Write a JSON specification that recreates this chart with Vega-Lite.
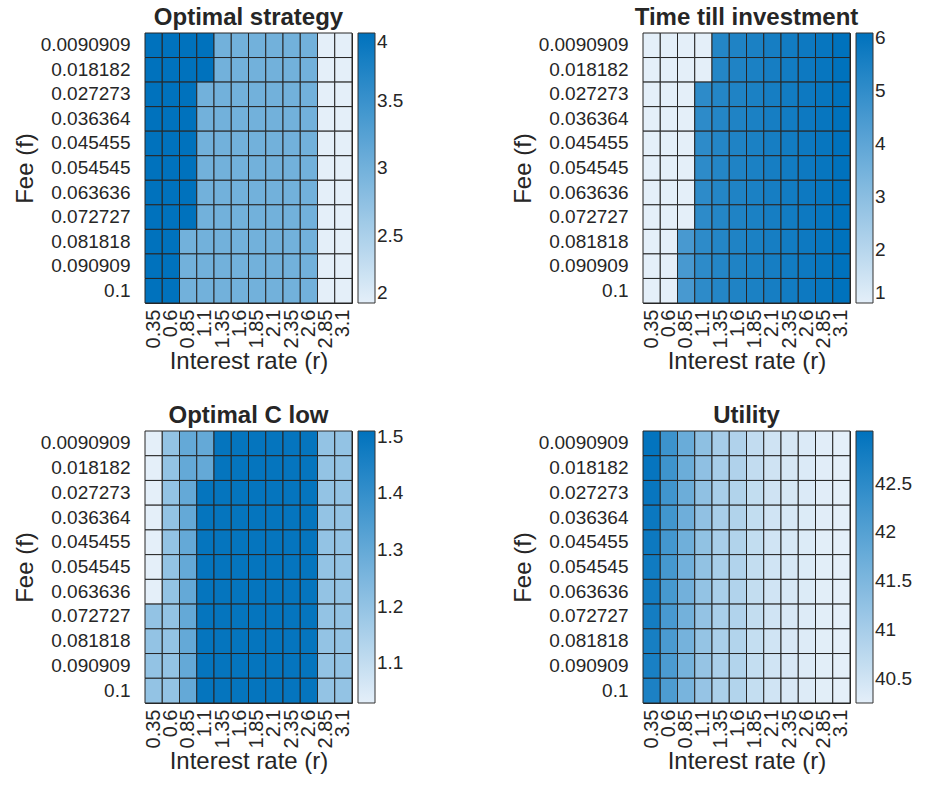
{
 "$schema": "https://vega.github.io/schema/vega-lite/v6.json",
 "background": "white",
 "padding": {"left": 12, "top": 5, "right": 5, "bottom": 5},
 "config": {
  "font": "Liberation Sans",
  "view": {"stroke": "#262626", "strokeWidth": 1},
  "title": {"font": "Liberation Sans", "fontSize": 24, "fontWeight": "bold", "color": "#262626", "offset": 3},
  "axis": {"labelFont": "Liberation Sans", "titleFont": "Liberation Sans", "labelFontSize": 19, "titleFontSize": 24, "labelColor": "#262626", "titleColor": "#262626", "titleFontWeight": "normal", "ticks": false, "domain": false, "grid": false},
  "axisX": {"labelAngle": 270, "labelOverlap": false, "labelFontSize": 20, "labelPadding": 6, "titlePadding": 2},
  "axisY": {"labelPadding": 15, "titlePadding": 3},
  "legend": {"gradientLength": 270, "gradientThickness": 17, "labelFontSize": 19, "labelColor": "#262626", "gradientStrokeColor": "#333333", "gradientStrokeWidth": 1, "offset": 6, "labelOverlap": false, "labelOffset": 5}
 },
 "datasets": {
  "grid": [
   {"f":"0.0090909","r":"0.35","s":4,"t":1,"c":1.03,"u":43.00},
   {"f":"0.0090909","r":"0.6","s":4,"t":1,"c":1.2,"u":42.30},
   {"f":"0.0090909","r":"0.85","s":4,"t":1,"c":1.3,"u":41.75},
   {"f":"0.0090909","r":"1.1","s":4,"t":1,"c":1.3,"u":41.30},
   {"f":"0.0090909","r":"1.35","s":3,"t":5.3,"c":1.5,"u":41.00},
   {"f":"0.0090909","r":"1.6","s":3,"t":5.4,"c":1.5,"u":40.89},
   {"f":"0.0090909","r":"1.85","s":3,"t":5.5,"c":1.5,"u":40.67},
   {"f":"0.0090909","r":"2.1","s":3,"t":5.6,"c":1.5,"u":40.51},
   {"f":"0.0090909","r":"2.35","s":3,"t":5.7,"c":1.5,"u":40.42},
   {"f":"0.0090909","r":"2.6","s":3,"t":5.8,"c":1.5,"u":40.36},
   {"f":"0.0090909","r":"2.85","s":2,"t":5.95,"c":1.2,"u":40.29},
   {"f":"0.0090909","r":"3.1","s":2,"t":6.1,"c":1.2,"u":40.25},

   {"f":"0.018182","r":"0.35","s":4,"t":1,"c":1.03,"u":42.97},
   {"f":"0.018182","r":"0.6","s":4,"t":1,"c":1.2,"u":42.28},
   {"f":"0.018182","r":"0.85","s":4,"t":1,"c":1.3,"u":41.73},
   {"f":"0.018182","r":"1.1","s":4,"t":1,"c":1.3,"u":41.29},
   {"f":"0.018182","r":"1.35","s":3,"t":5.3,"c":1.5,"u":41.00},
   {"f":"0.018182","r":"1.6","s":3,"t":5.4,"c":1.5,"u":40.89},
   {"f":"0.018182","r":"1.85","s":3,"t":5.5,"c":1.5,"u":40.67},
   {"f":"0.018182","r":"2.1","s":3,"t":5.6,"c":1.5,"u":40.51},
   {"f":"0.018182","r":"2.35","s":3,"t":5.7,"c":1.5,"u":40.42},
   {"f":"0.018182","r":"2.6","s":3,"t":5.8,"c":1.5,"u":40.36},
   {"f":"0.018182","r":"2.85","s":2,"t":5.95,"c":1.2,"u":40.29},
   {"f":"0.018182","r":"3.1","s":2,"t":6.1,"c":1.2,"u":40.25},

   {"f":"0.027273","r":"0.35","s":4,"t":1,"c":1.03,"u":42.94},
   {"f":"0.027273","r":"0.6","s":4,"t":1,"c":1.2,"u":42.26},
   {"f":"0.027273","r":"0.85","s":4,"t":1,"c":1.3,"u":41.72},
   {"f":"0.027273","r":"1.1","s":3,"t":5.1,"c":1.5,"u":41.28},
   {"f":"0.027273","r":"1.35","s":3,"t":5.3,"c":1.5,"u":40.99},
   {"f":"0.027273","r":"1.6","s":3,"t":5.4,"c":1.5,"u":40.88},
   {"f":"0.027273","r":"1.85","s":3,"t":5.5,"c":1.5,"u":40.66},
   {"f":"0.027273","r":"2.1","s":3,"t":5.6,"c":1.5,"u":40.51},
   {"f":"0.027273","r":"2.35","s":3,"t":5.7,"c":1.5,"u":40.42},
   {"f":"0.027273","r":"2.6","s":3,"t":5.8,"c":1.5,"u":40.36},
   {"f":"0.027273","r":"2.85","s":2,"t":5.95,"c":1.2,"u":40.29},
   {"f":"0.027273","r":"3.1","s":2,"t":6.1,"c":1.2,"u":40.25},

   {"f":"0.036364","r":"0.35","s":4,"t":1,"c":1.03,"u":42.91},
   {"f":"0.036364","r":"0.6","s":4,"t":1,"c":1.2,"u":42.24},
   {"f":"0.036364","r":"0.85","s":4,"t":1,"c":1.3,"u":41.70},
   {"f":"0.036364","r":"1.1","s":3,"t":5.1,"c":1.5,"u":41.27},
   {"f":"0.036364","r":"1.35","s":3,"t":5.3,"c":1.5,"u":40.99},
   {"f":"0.036364","r":"1.6","s":3,"t":5.4,"c":1.5,"u":40.88},
   {"f":"0.036364","r":"1.85","s":3,"t":5.5,"c":1.5,"u":40.66},
   {"f":"0.036364","r":"2.1","s":3,"t":5.6,"c":1.5,"u":40.50},
   {"f":"0.036364","r":"2.35","s":3,"t":5.7,"c":1.5,"u":40.41},
   {"f":"0.036364","r":"2.6","s":3,"t":5.8,"c":1.5,"u":40.35},
   {"f":"0.036364","r":"2.85","s":2,"t":5.95,"c":1.2,"u":40.29},
   {"f":"0.036364","r":"3.1","s":2,"t":6.1,"c":1.2,"u":40.25},

   {"f":"0.045455","r":"0.35","s":4,"t":1,"c":1.03,"u":42.88},
   {"f":"0.045455","r":"0.6","s":4,"t":1,"c":1.2,"u":42.22},
   {"f":"0.045455","r":"0.85","s":4,"t":1,"c":1.3,"u":41.68},
   {"f":"0.045455","r":"1.1","s":3,"t":5.1,"c":1.5,"u":41.26},
   {"f":"0.045455","r":"1.35","s":3,"t":5.3,"c":1.5,"u":40.98},
   {"f":"0.045455","r":"1.6","s":3,"t":5.4,"c":1.5,"u":40.88},
   {"f":"0.045455","r":"1.85","s":3,"t":5.5,"c":1.5,"u":40.66},
   {"f":"0.045455","r":"2.1","s":3,"t":5.6,"c":1.5,"u":40.50},
   {"f":"0.045455","r":"2.35","s":3,"t":5.7,"c":1.5,"u":40.41},
   {"f":"0.045455","r":"2.6","s":3,"t":5.8,"c":1.5,"u":40.35},
   {"f":"0.045455","r":"2.85","s":2,"t":5.95,"c":1.2,"u":40.28},
   {"f":"0.045455","r":"3.1","s":2,"t":6.1,"c":1.2,"u":40.25},

   {"f":"0.054545","r":"0.35","s":4,"t":1,"c":1.03,"u":42.85},
   {"f":"0.054545","r":"0.6","s":4,"t":1,"c":1.2,"u":42.20},
   {"f":"0.054545","r":"0.85","s":4,"t":1,"c":1.3,"u":41.66},
   {"f":"0.054545","r":"1.1","s":3,"t":5.1,"c":1.5,"u":41.25},
   {"f":"0.054545","r":"1.35","s":3,"t":5.3,"c":1.5,"u":40.98},
   {"f":"0.054545","r":"1.6","s":3,"t":5.4,"c":1.5,"u":40.87},
   {"f":"0.054545","r":"1.85","s":3,"t":5.5,"c":1.5,"u":40.65},
   {"f":"0.054545","r":"2.1","s":3,"t":5.6,"c":1.5,"u":40.50},
   {"f":"0.054545","r":"2.35","s":3,"t":5.7,"c":1.5,"u":40.41},
   {"f":"0.054545","r":"2.6","s":3,"t":5.8,"c":1.5,"u":40.35},
   {"f":"0.054545","r":"2.85","s":2,"t":5.95,"c":1.2,"u":40.28},
   {"f":"0.054545","r":"3.1","s":2,"t":6.1,"c":1.2,"u":40.25},

   {"f":"0.063636","r":"0.35","s":4,"t":1,"c":1.03,"u":42.82},
   {"f":"0.063636","r":"0.6","s":4,"t":1,"c":1.2,"u":42.18},
   {"f":"0.063636","r":"0.85","s":4,"t":1,"c":1.3,"u":41.65},
   {"f":"0.063636","r":"1.1","s":3,"t":5.1,"c":1.5,"u":41.24},
   {"f":"0.063636","r":"1.35","s":3,"t":5.3,"c":1.5,"u":40.97},
   {"f":"0.063636","r":"1.6","s":3,"t":5.4,"c":1.5,"u":40.87},
   {"f":"0.063636","r":"1.85","s":3,"t":5.5,"c":1.5,"u":40.65},
   {"f":"0.063636","r":"2.1","s":3,"t":5.6,"c":1.5,"u":40.50},
   {"f":"0.063636","r":"2.35","s":3,"t":5.7,"c":1.5,"u":40.41},
   {"f":"0.063636","r":"2.6","s":3,"t":5.8,"c":1.5,"u":40.35},
   {"f":"0.063636","r":"2.85","s":2,"t":5.95,"c":1.2,"u":40.28},
   {"f":"0.063636","r":"3.1","s":2,"t":6.1,"c":1.2,"u":40.25},

   {"f":"0.072727","r":"0.35","s":4,"t":1,"c":1.2,"u":42.79},
   {"f":"0.072727","r":"0.6","s":4,"t":1,"c":1.2,"u":42.16},
   {"f":"0.072727","r":"0.85","s":4,"t":1,"c":1.3,"u":41.63},
   {"f":"0.072727","r":"1.1","s":3,"t":5.1,"c":1.5,"u":41.23},
   {"f":"0.072727","r":"1.35","s":3,"t":5.3,"c":1.5,"u":40.97},
   {"f":"0.072727","r":"1.6","s":3,"t":5.4,"c":1.5,"u":40.87},
   {"f":"0.072727","r":"1.85","s":3,"t":5.5,"c":1.5,"u":40.65},
   {"f":"0.072727","r":"2.1","s":3,"t":5.6,"c":1.5,"u":40.49},
   {"f":"0.072727","r":"2.35","s":3,"t":5.7,"c":1.5,"u":40.40},
   {"f":"0.072727","r":"2.6","s":3,"t":5.8,"c":1.5,"u":40.34},
   {"f":"0.072727","r":"2.85","s":2,"t":5.95,"c":1.2,"u":40.28},
   {"f":"0.072727","r":"3.1","s":2,"t":6.1,"c":1.2,"u":40.25},

   {"f":"0.081818","r":"0.35","s":4,"t":1,"c":1.2,"u":42.76},
   {"f":"0.081818","r":"0.6","s":4,"t":1,"c":1.2,"u":42.14},
   {"f":"0.081818","r":"0.85","s":3,"t":4.5,"c":1.3,"u":41.61},
   {"f":"0.081818","r":"1.1","s":3,"t":5.1,"c":1.5,"u":41.22},
   {"f":"0.081818","r":"1.35","s":3,"t":5.3,"c":1.5,"u":40.96},
   {"f":"0.081818","r":"1.6","s":3,"t":5.4,"c":1.5,"u":40.86},
   {"f":"0.081818","r":"1.85","s":3,"t":5.5,"c":1.5,"u":40.64},
   {"f":"0.081818","r":"2.1","s":3,"t":5.6,"c":1.5,"u":40.49},
   {"f":"0.081818","r":"2.35","s":3,"t":5.7,"c":1.5,"u":40.40},
   {"f":"0.081818","r":"2.6","s":3,"t":5.8,"c":1.5,"u":40.34},
   {"f":"0.081818","r":"2.85","s":2,"t":5.95,"c":1.2,"u":40.28},
   {"f":"0.081818","r":"3.1","s":2,"t":6.1,"c":1.2,"u":40.25},

   {"f":"0.090909","r":"0.35","s":4,"t":1,"c":1.2,"u":42.73},
   {"f":"0.090909","r":"0.6","s":4,"t":1,"c":1.2,"u":42.12},
   {"f":"0.090909","r":"0.85","s":3,"t":4.5,"c":1.3,"u":41.59},
   {"f":"0.090909","r":"1.1","s":3,"t":5.1,"c":1.5,"u":41.21},
   {"f":"0.090909","r":"1.35","s":3,"t":5.3,"c":1.5,"u":40.96},
   {"f":"0.090909","r":"1.6","s":3,"t":5.4,"c":1.5,"u":40.86},
   {"f":"0.090909","r":"1.85","s":3,"t":5.5,"c":1.5,"u":40.64},
   {"f":"0.090909","r":"2.1","s":3,"t":5.6,"c":1.5,"u":40.49},
   {"f":"0.090909","r":"2.35","s":3,"t":5.7,"c":1.5,"u":40.40},
   {"f":"0.090909","r":"2.6","s":3,"t":5.8,"c":1.5,"u":40.34},
   {"f":"0.090909","r":"2.85","s":2,"t":5.95,"c":1.2,"u":40.28},
   {"f":"0.090909","r":"3.1","s":2,"t":6.1,"c":1.2,"u":40.25},

   {"f":"0.1","r":"0.35","s":4,"t":1,"c":1.2,"u":42.70},
   {"f":"0.1","r":"0.6","s":4,"t":1,"c":1.2,"u":42.10},
   {"f":"0.1","r":"0.85","s":3,"t":4.5,"c":1.3,"u":41.57},
   {"f":"0.1","r":"1.1","s":3,"t":5.1,"c":1.5,"u":41.20},
   {"f":"0.1","r":"1.35","s":3,"t":5.3,"c":1.5,"u":40.95},
   {"f":"0.1","r":"1.6","s":3,"t":5.4,"c":1.5,"u":40.86},
   {"f":"0.1","r":"1.85","s":3,"t":5.5,"c":1.5,"u":40.64},
   {"f":"0.1","r":"2.1","s":3,"t":5.6,"c":1.5,"u":40.49},
   {"f":"0.1","r":"2.35","s":3,"t":5.7,"c":1.5,"u":40.40},
   {"f":"0.1","r":"2.6","s":3,"t":5.8,"c":1.5,"u":40.34},
   {"f":"0.1","r":"2.85","s":2,"t":5.95,"c":1.2,"u":40.28},
   {"f":"0.1","r":"3.1","s":2,"t":6.1,"c":1.2,"u":40.25}
  ]
 },
 "columns": 2,
 "spacing": {"column": 105, "row": 28},
 "resolve": {"scale": {"color": "independent"}, "legend": {"color": "independent"}},
 "concat": [
  {
   "data": {"name": "grid"},
   "width": 207, "height": 270,
   "title": "Optimal strategy",
   "mark": {"type": "rect", "stroke": "#262626", "strokeWidth": 1},
   "encoding": {
    "x": {"field": "r", "type": "ordinal", "sort": null, "title": "Interest rate (r)", "scale": {"paddingInner": 0, "paddingOuter": 0}},
    "y": {"field": "f", "type": "ordinal", "sort": null, "title": "Fee (f)", "scale": {"paddingInner": 0, "paddingOuter": 0}},
    "color": {"field": "s", "type": "quantitative", "scale": {"domain": [2, 4], "range": ["#e4eff9", "#0072bd"], "interpolate": "rgb"}, "legend": {"title": null, "values": [2, 2.5, 3, 3.5, 4], "format": "~g"}}
   }
  },
  {
   "data": {"name": "grid"},
   "width": 207, "height": 270,
   "title": "Time till investment",
   "mark": {"type": "rect", "stroke": "#262626", "strokeWidth": 1},
   "encoding": {
    "x": {"field": "r", "type": "ordinal", "sort": null, "title": "Interest rate (r)", "scale": {"paddingInner": 0, "paddingOuter": 0}},
    "y": {"field": "f", "type": "ordinal", "sort": null, "title": "Fee (f)", "scale": {"paddingInner": 0, "paddingOuter": 0}},
    "color": {"field": "t", "type": "quantitative", "scale": {"domain": [1, 6.1], "range": ["#e4eff9", "#0072bd"], "interpolate": "rgb"}, "legend": {"title": null, "values": [1, 2, 3, 4, 5, 6], "format": "~g"}}
   }
  },
  {
   "data": {"name": "grid"},
   "width": 207, "height": 272,
   "title": "Optimal C low",
   "mark": {"type": "rect", "stroke": "#262626", "strokeWidth": 1},
   "encoding": {
    "x": {"field": "r", "type": "ordinal", "sort": null, "title": "Interest rate (r)", "scale": {"paddingInner": 0, "paddingOuter": 0}},
    "y": {"field": "f", "type": "ordinal", "sort": null, "title": "Fee (f)", "scale": {"paddingInner": 0, "paddingOuter": 0}},
    "color": {"field": "c", "type": "quantitative", "scale": {"domain": [1.03, 1.51], "range": ["#e4eff9", "#0072bd"], "interpolate": "rgb"}, "legend": {"title": null, "values": [1.1, 1.2, 1.3, 1.4, 1.5], "format": "~g", "gradientLength": 272}}
   }
  },
  {
   "data": {"name": "grid"},
   "width": 207, "height": 272,
   "title": "Utility",
   "mark": {"type": "rect", "stroke": "#262626", "strokeWidth": 1},
   "encoding": {
    "x": {"field": "r", "type": "ordinal", "sort": null, "title": "Interest rate (r)", "scale": {"paddingInner": 0, "paddingOuter": 0}},
    "y": {"field": "f", "type": "ordinal", "sort": null, "title": "Fee (f)", "scale": {"paddingInner": 0, "paddingOuter": 0}},
    "color": {"field": "u", "type": "quantitative", "scale": {"domain": [40.25, 43.04], "range": ["#e4eff9", "#0072bd"], "interpolate": "rgb"}, "legend": {"title": null, "values": [40.5, 41, 41.5, 42, 42.5], "format": "~g", "gradientLength": 272}}
   }
  }
 ]
}
